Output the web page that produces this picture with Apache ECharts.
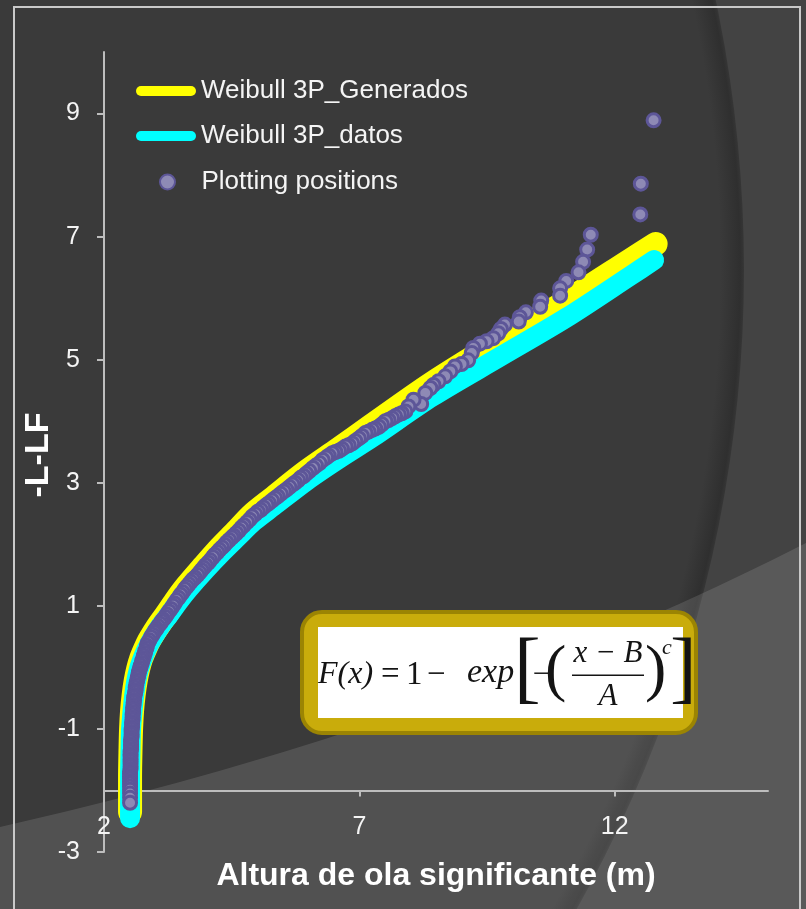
<!DOCTYPE html>
<html>
<head>
<meta charset="utf-8">
<script src="https://cdn.jsdelivr.net/npm/echarts@6/dist/echarts.min.js"></script>
<style>
  html, body { margin: 0; padding: 0; background: #3a3a3a; }
  #chart { width: 806px; height: 909px; }
</style>
</head>
<body>
<div id="chart"></div>
<script>
// Axis ticks
const xTicks = [2, 7, 12];
const yTicks = [-3, -1, 1, 3, 5, 7, 9];

// Fitted Weibull 3P curve, generated sample
const generados = [
  [2.51, -2.35], [2.51, -1.80], [2.52, -1.30], [2.53, -1.00], [2.55, -0.70],
  [2.58, -0.45], [2.62, -0.22], [2.67, -0.02], [2.73, 0.15], [2.80, 0.29],
  [2.88, 0.43], [2.98, 0.57], [3.10, 0.72], [3.23, 0.87], [3.42, 1.10],
  [3.62, 1.32], [3.95, 1.64], [4.26, 1.93], [4.59, 2.21], [4.90, 2.48],
  [5.29, 2.74], [5.96, 3.18], [6.60, 3.55], [7.24, 3.93], [8.41, 4.61],
  [9.72, 5.29], [11.03, 5.94], [12.31, 6.62], [12.80, 6.88]
];

// Fitted Weibull 3P curve, observed data
const datos = [
  [2.51, -2.45], [2.51, -1.80], [2.52, -1.30], [2.53, -1.00], [2.56, -0.70],
  [2.59, -0.46], [2.63, -0.23], [2.68, -0.04], [2.75, 0.13], [2.82, 0.27],
  [2.90, 0.40], [3.00, 0.54], [3.12, 0.69], [3.26, 0.84], [3.45, 1.06],
  [3.65, 1.27], [3.98, 1.58], [4.30, 1.86], [4.62, 2.12], [4.93, 2.37],
  [5.32, 2.62], [5.98, 3.04], [6.62, 3.40], [7.26, 3.74], [8.43, 4.40],
  [9.74, 5.04], [11.05, 5.68], [12.30, 6.36], [12.77, 6.62]
];

// Empirical plotting positions (Hs, reduced variate)
const plottingPositions = [
  [2.51,-2.20],[2.51,-2.12],[2.51,-2.05],[2.51,-1.99],[2.51,-1.94],[2.51,-1.89],[2.51,-1.85],
  [2.51,-1.81],[2.51,-1.77],[2.51,-1.73],[2.51,-1.69],[2.52,-1.65],[2.52,-1.61],[2.52,-1.57],
  [2.52,-1.53],[2.52,-1.49],[2.52,-1.45],[2.52,-1.41],[2.52,-1.37],[2.53,-1.33],[2.53,-1.29],
  [2.53,-1.25],[2.53,-1.21],[2.53,-1.17],[2.54,-1.13],[2.54,-1.09],[2.54,-1.05],[2.54,-1.01],
  [2.55,-0.97],[2.55,-0.93],[2.55,-0.89],[2.56,-0.85],[2.56,-0.81],[2.56,-0.77],[2.57,-0.73],
  [2.57,-0.69],[2.57,-0.65],[2.58,-0.61],[2.58,-0.57],[2.59,-0.53],[2.59,-0.49],[2.60,-0.45],
  [2.61,-0.41],[2.62,-0.37],[2.62,-0.33],[2.63,-0.29],[2.64,-0.25],[2.65,-0.21],[2.66,-0.17],
  [2.67,-0.13],[2.68,-0.09],[2.69,-0.05],[2.71,-0.01],[2.72,0.03],[2.74,0.07],[2.75,0.11],
  [2.77,0.15],[2.78,0.19],[2.80,0.23],[2.81,0.27],[2.83,0.31],[2.84,0.35],[2.86,0.40],
  [2.89,0.44],[2.92,0.49],[2.95,0.53],[2.98,0.57],[3.00,0.60],[3.03,0.63],[3.06,0.67],
  [3.10,0.71],[3.13,0.75],[3.16,0.78],[3.20,0.82],[3.23,0.86],[3.27,0.91],[3.31,0.95],
  [3.35,1.00],[3.38,1.04],[3.42,1.09],[3.46,1.13],[3.50,1.18],[3.54,1.22],[3.58,1.27],
  [3.62,1.31],[3.66,1.35],[3.70,1.39],[3.74,1.43],[3.78,1.46],[3.83,1.50],[3.87,1.54],
  [3.91,1.58],[3.95,1.62],[3.99,1.66],[4.04,1.70],[4.08,1.74],[4.13,1.79],[4.17,1.83],
  [4.22,1.87],[4.26,1.91],[4.31,1.95],[4.36,1.99],[4.40,2.03],[4.45,2.07],[4.50,2.11],
  [4.54,2.14],[4.59,2.18],[4.64,2.22],[4.69,2.27],[4.74,2.31],[4.80,2.36],[4.85,2.40],
  [4.90,2.45],[4.96,2.49],[5.01,2.53],[5.07,2.56],[5.12,2.60],[5.18,2.64],[5.23,2.67],
  [5.29,2.71],[5.35,2.75],[5.40,2.78],[5.46,2.82],[5.52,2.86],[5.57,2.89],[5.63,2.93],
  [5.69,2.97],[5.74,3.00],[5.80,3.04],[5.85,3.08],[5.91,3.11],[5.96,3.15],[6.02,3.19],
  [6.09,3.24],[6.15,3.28],[6.22,3.32],[6.28,3.37],[6.35,3.41],[6.40,3.44],[6.47,3.48],
  [6.53,3.50],[6.60,3.52],[6.66,3.55],[6.73,3.59],[6.79,3.61],[6.86,3.64],[6.92,3.68],
  [6.99,3.72],[7.05,3.76],[7.12,3.81],[7.18,3.83],[7.25,3.86],[7.31,3.88],[7.38,3.91],
  [7.44,3.95],[7.51,4.00],[7.57,4.02],[7.64,4.05],[7.70,4.08],[7.77,4.11],[7.83,4.13],
  [7.90,4.16],[7.96,4.24],[8.06,4.35],[8.21,4.28],[8.29,4.46],[8.39,4.54],[8.45,4.59],
  [8.55,4.65],[8.68,4.73],[8.78,4.81],[8.87,4.89],[9.00,4.93],[9.13,4.99],[9.20,5.11],
  [9.23,5.19],[9.36,5.26],[9.49,5.30],[9.62,5.35],[9.72,5.43],[9.77,5.50],[9.85,5.57],
  [10.12,5.62],[10.14,5.69],[10.26,5.77],[10.54,5.86],[10.56,5.96],[10.93,6.04],[10.93,6.16],
  [11.05,6.28],[11.29,6.42],[11.38,6.59],[11.46,6.79],[11.53,7.03],[12.50,7.36],[12.51,7.86],
  [12.76,8.89]
];

const FONT = "'Liberation Sans', Arial, sans-serif";
const SERIF = "'Liberation Serif', 'Times New Roman', serif";
const capsule = 'path://M5,0 L55,0 A5,5 0 0 1 55,10 L5,10 A5,5 0 0 1 5,0 Z';

// Lighter lower band of the backdrop: quadratic edge from left to right
const bandPts = [];
for (let i = 0; i <= 40; i++) {
  const t = i / 40, u = 1 - t;
  bandPts.push([2 * u * t * 450 + t * t * 806, u * u * 827 + 2 * u * t * 725 + t * t * 543]);
}
bandPts.push([806, 909], [0, 909]);

const chart = echarts.init(document.getElementById('chart'), null, { renderer: 'canvas' });

function legendBox(name, left, top, width, icon, h) {
  return {
    data: [name], left: left, top: top, orient: 'vertical', padding: 0,
    itemWidth: width, itemHeight: h, icon: icon, itemGap: 0,
    selectedMode: false,
    textStyle: { color: '#f4f4f4', fontSize: 26, fontFamily: FONT, lineHeight: 30 }
  };
}

function eqText(x, y, text, size, italic, align) {
  return {
    type: 'text', x: x, y: y, z: 31,
    style: {
      text: text, fill: '#141414',
      font: (italic ? 'italic ' : '') + size + 'px ' + SERIF,
      textAlign: align || 'left', textVerticalAlign: 'middle'
    }
  };
}

chart.setOption({
  animation: false,
  backgroundColor: '#434343',
  grid: { left: 104, top: 52, width: 664, height: 800, containLabel: false },
  graphic: [
    { type: 'circle', z: -20, silent: true, shape: { cx: -560, cy: 270, r: 1304 },
      style: { fill: {
        type: 'radial', x: 0.5, y: 0.5, r: 0.5, global: false,
        colorStops: [
          { offset: 0, color: '#3a3a3a' },
          { offset: 0.982, color: '#3a3a3a' },
          { offset: 0.997, color: '#2f2f2f' },
          { offset: 1, color: '#363636' }
        ]
      } } },
    { type: 'polygon', z: -18, silent: true, shape: { points: bandPts },
      style: { fill: 'rgba(255,255,255,0.12)' } },
    { type: 'rect', z: -17, silent: true, shape: { x: 14, y: 7, width: 786, height: 960 },
      style: { fill: null, stroke: '#c9c9c9', lineWidth: 2 } },
    // Y-axis title
    { type: 'text', x: 39, y: 455, rotation: Math.PI / 2, z: 5, silent: true,
      style: { text: '-L-LF', fill: '#ffffff', font: 'bold 34px ' + FONT,
               textAlign: 'center', textVerticalAlign: 'middle' } },
    // Formula box
    { type: 'rect', z: 30, silent: true, shape: { x: 302, y: 612, width: 394, height: 121, r: 20 },
      style: { fill: '#c9ac0b', stroke: '#9b8403', lineWidth: 4 } },
    { type: 'rect', z: 30, silent: true, shape: { x: 318, y: 627, width: 365, height: 91 },
      style: { fill: '#ffffff' } },
    eqText(318, 675, 'F(x)', 32, true),
    eqText(381, 675, '=', 33, false),
    eqText(406, 675, '1', 33, false),
    eqText(427, 675, '\u2212', 33, false),
    eqText(467, 673, 'exp', 34, true),
    eqText(514, 672, '[', 80, false),
    eqText(533, 675, '\u2212', 30, false),
    eqText(545, 672, '(', 64, false),
    eqText(608, 654, 'x \u2212 B', 31, true, 'center'),
    { type: 'rect', z: 31, silent: true, shape: { x: 572, y: 674.5, width: 72, height: 1.6 },
      style: { fill: '#141414' } },
    eqText(608, 697, 'A', 31, true, 'center'),
    eqText(645, 672, ')', 64, false),
    eqText(662, 648, 'c', 22, true),
    eqText(670, 672, ']', 80, false)
  ],
  legend: [
    legendBox('Weibull 3P_Generados', 136, 76, 60, capsule, 11),
    legendBox('Weibull 3P_datos', 136, 121, 60, capsule, 11),
    legendBox('Plotting positions', 159, 167, 58, 'circle', 15)
  ],
  xAxis: {
    type: 'value', min: 2, max: 15, offset: -61.5,
    axisLine: { show: true, onZero: false, lineStyle: { color: '#bdbdbd', width: 2 } },
    axisTick: { show: true, length: 6, customValues: xTicks, lineStyle: { color: '#bdbdbd', width: 2 } },
    axisLabel: { customValues: xTicks, margin: 24, color: '#f4f4f4', fontSize: 25, fontFamily: FONT },
    splitLine: { show: false },
    name: 'Altura de ola significante (m)', nameLocation: 'middle', nameGap: 70,
    nameTextStyle: { color: '#ffffff', fontSize: 32, fontWeight: 'bold', fontFamily: FONT }
  },
  yAxis: {
    type: 'value', min: -3, max: 10,
    axisLine: { show: true, onZero: false, lineStyle: { color: '#bdbdbd', width: 2 } },
    axisTick: { show: true, length: 7, customValues: yTicks, lineStyle: { color: '#bdbdbd', width: 2 } },
    axisLabel: { customValues: yTicks, margin: 24, color: '#f4f4f4', fontSize: 25, fontFamily: FONT },
    splitLine: { show: false }
  },
  series: [
    {
      name: 'Weibull 3P_Generados', type: 'line', data: generados,
      symbol: 'none', smooth: 0.3, color: '#ffff00', z: 2,
      lineStyle: { color: '#ffff00', width: 24, cap: 'round', join: 'round' }
    },
    {
      name: 'Weibull 3P_datos', type: 'line', data: datos,
      symbol: 'none', smooth: 0.3, color: '#00ffff', z: 3,
      lineStyle: { color: '#00ffff', width: 20, cap: 'round', join: 'round' }
    },
    {
      name: 'Plotting positions', type: 'scatter', z: 4,
      data: plottingPositions.slice().reverse(),
      symbol: 'circle', symbolSize: 13,
      itemStyle: { color: '#8e8ab5', borderColor: '#5d5698', borderWidth: 3, opacity: 1 }
    }
  ]
});
</script>
</body>
</html>
